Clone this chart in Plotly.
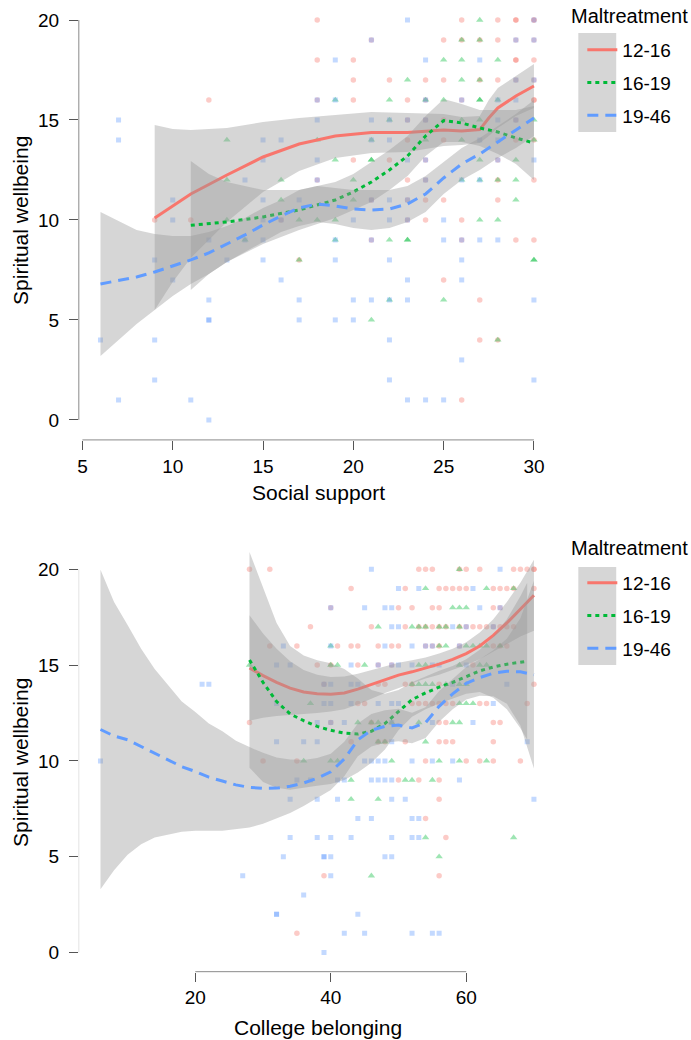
import plotly.graph_objects as go

# ---------------- data: top panel (Social support) ----------------
groups = ["12-16", "16-19", "19-46"]

top_red_x = [9, 11, 12, 17, 16, 18, 18, 18, 18, 20, 20, 20, 20, 21, 21, 21, 22, 22,
             23, 23, 23, 23, 23, 23, 24, 24, 24, 24, 24, 24, 24,
             25, 25, 25, 25, 25, 25, 26, 26, 26, 26, 26, 26, 27, 27, 27, 27,
             28, 28, 28, 28, 28, 28, 28, 29, 29, 29, 29, 29, 29, 29, 29, 29,
             30, 30, 30, 30, 30, 30, 30, 30, 30, 30]
top_red_y = [10, 10, 16, 8, 10, 20, 18, 16, 12, 18, 17, 16, 13, 19, 11, 9, 17, 13,
             16, 15, 14, 12, 11, 10, 17, 16, 15, 13, 12, 11, 10,
             19, 17, 15, 14, 11, 7, 20, 19, 16, 10, 9, 1, 19, 17, 6, 4,
             20, 19, 17, 12, 11, 4, 13, 20, 20, 19, 18, 18, 17, 15, 14, 9,
             20, 20, 19, 18, 17, 16, 16, 14, 12, 9]

top_green_x = [13, 13, 13, 14, 16, 16, 17, 17, 18, 18, 19, 19, 19, 19, 20, 20,
               21, 21, 21, 21, 22, 22, 22, 22, 23, 23, 23, 24, 24, 25, 25, 25,
               26, 26, 26, 26, 26, 26, 27, 27, 27, 27, 27, 27, 27, 27, 27,
               28, 28, 28, 28, 28, 29, 29, 29, 30, 30, 30, 30]
top_green_y = [14, 12, 10, 9, 12, 11, 10, 8, 14, 10, 16, 13, 10, 9, 12, 11,
               14, 13, 13, 5, 16, 15, 9, 6, 17, 9, 9, 16, 14, 18, 16, 6,
               19, 18, 17, 15, 14, 12, 20, 19, 17, 16, 16, 15, 13, 12, 10,
               18, 16, 12, 10, 4, 13, 12, 11, 15, 14, 8, 8]

top_blue_x = [6, 7, 7, 7, 9, 9, 9, 10, 10, 10, 11, 12, 12, 12, 12, 12, 13, 14, 14,
              15, 15, 15, 15, 15, 15, 16, 16, 16, 17, 17, 17, 18, 18, 18, 18,
              19, 19, 19, 19, 19, 20, 20, 20, 21, 21, 21, 21, 21, 21,
              22, 22, 22, 22, 22, 22, 22, 22, 23, 23, 23, 23, 23, 23, 23, 23,
              24, 24, 24, 24, 24, 24, 25, 25, 25, 26, 26, 26, 26, 26, 26,
              27, 27, 27, 27, 28, 28, 28, 28, 28, 29, 29, 29, 29,
              30, 30, 30, 30, 30, 30]
top_blue_y = [4, 15, 14, 1, 8, 4, 2, 11, 10, 7, 1, 9, 6, 5, 5, 0, 8, 12, 9,
              14, 13, 11, 10, 9, 8, 14, 10, 7, 11, 6, 5, 16, 15, 13, 12,
              18, 16, 9, 8, 5, 10, 6, 5, 19, 15, 14, 11, 9, 6,
              15, 14, 11, 10, 8, 6, 4, 2, 20, 15, 13, 11, 10, 7, 6, 1,
              18, 16, 15, 13, 12, 1, 10, 9, 1, 16, 12, 9, 8, 7, 3,
              18, 14, 12, 9, 16, 15, 14, 13, 9, 19, 17, 16, 15,
              20, 19, 17, 13, 6, 2]

# loess fits with their confidence bands
top_red_fx = [9, 10, 11, 13, 15, 17, 19, 21, 23, 25, 26, 27, 27.5, 28, 29, 30]
top_red_fit = [10.1, 10.7, 11.3, 12.25, 13.15, 13.8, 14.2, 14.37, 14.37, 14.5, 14.45, 14.52, 15.1, 15.6, 16.2, 16.7]
top_red_lo = [5.5, 6.9, 8.1, 9.9, 11.4, 12.45, 13.1, 13.35, 13.4, 13.7, 13.75, 13.85, 14.2, 14.6, 15.2, 15.6]
top_red_hi = [14.75, 14.55, 14.5, 14.6, 14.9, 15.1, 15.25, 15.4, 15.35, 15.3, 15.15, 15.2, 16.0, 16.6, 17.2, 17.8]

top_green_fx = [11, 12, 13, 15, 17, 19, 20, 21, 22, 23, 24, 25, 26, 27, 28, 29, 30]
top_green_fit = [9.73, 9.8, 9.9, 10.15, 10.5, 11.0, 11.4, 11.9, 12.5, 13.2, 14.2, 14.97, 14.85, 14.6, 14.4, 14.1, 13.85]
top_green_lo = [6.5, 7.3, 7.9, 8.8, 9.5, 10.1, 10.5, 10.9, 11.5, 12.2, 13.2, 13.9, 13.9, 13.7, 13.3, 12.8, 12.0]
top_green_hi = [12.95, 12.3, 11.9, 11.5, 11.5, 11.9, 12.3, 12.9, 13.5, 14.2, 15.2, 16.05, 15.8, 15.5, 15.5, 15.5, 15.7]

top_blue_fx = [6, 8, 9, 10, 11, 12, 13, 14, 15, 16, 17, 18, 19, 20, 21, 22, 23, 24, 25, 26, 27, 28, 29, 30]
top_blue_fit = [6.8, 7.15, 7.4, 7.7, 8.0, 8.35, 8.8, 9.25, 9.75, 10.2, 10.6, 10.8, 10.7, 10.55, 10.5, 10.55, 10.8, 11.3, 12.1, 12.8, 13.3, 13.9, 14.5, 15.1]
top_blue_lo = [3.2, 4.8, 5.5, 6.2, 6.8, 7.3, 7.9, 8.4, 8.9, 9.4, 9.7, 9.9, 9.8, 9.6, 9.5, 9.6, 9.9, 10.4, 11.3, 12.0, 12.5, 13.1, 13.6, 14.2]
top_blue_hi = [10.4, 9.5, 9.3, 9.2, 9.2, 9.4, 9.7, 10.1, 10.6, 11.0, 11.5, 11.7, 11.6, 11.5, 11.5, 11.5, 11.7, 12.2, 12.9, 13.6, 14.1, 14.7, 15.3, 16.0]

# ---------------- data: bottom panel (College belonging) ----------------
bot_red_x = [28, 31, 53, 54, 55, 59, 60, 62, 67, 68, 69, 70, 70,
             43, 51, 56, 57, 58, 59, 60, 64, 65, 66, 67, 70,
             40, 50, 52, 55, 56, 64, 65,
             37, 46, 51, 53, 54, 55, 56, 57, 59, 60, 61, 62, 63, 64, 65, 66, 67,
             31, 35, 41, 43, 44, 47, 49, 50, 54, 55, 56, 59, 64, 65, 66,
             38, 40, 44, 47, 49, 61,
             39, 47, 48, 51, 52, 56, 70,
             44, 45, 52, 53, 54, 55, 56, 57, 58, 62, 63, 69,
             28, 40, 46, 56, 57, 64, 65,
             43, 47, 48, 51, 56, 57, 58, 64,
             30, 35, 54, 60, 62, 64, 68,
             50, 53, 56, 56, 54, 57, 39, 56, 35]
bot_red_y = [20, 20, 20, 20, 20, 20, 20, 20, 20, 20, 20, 20, 20,
             19, 19, 19, 19, 19, 19, 19, 19, 19, 19, 19, 19,
             18, 18, 18, 18, 18, 18, 18,
             17, 17, 17, 17, 17, 17, 17, 17, 17, 17, 17, 17, 17, 17, 17, 17, 17,
             16, 16, 16, 16, 16, 16, 16, 16, 16, 16, 16, 16, 16, 16, 16,
             15, 15, 15, 15, 15, 15,
             14, 14, 14, 14, 14, 14, 14,
             13, 13, 13, 13, 13, 13, 13, 13, 13, 13, 13, 13,
             12, 12, 12, 12, 12, 12, 12,
             11, 11, 11, 11, 11, 11, 11, 11,
             10, 10, 10, 10, 10, 10, 10,
             9, 9, 9, 8, 7, 6, 4, 4, 1]

bot_green_x = [59, 54, 63, 67, 58, 59, 60,
               47, 52, 53, 54, 56, 57, 59,
               40, 56, 57, 60, 61, 62, 63, 65,
               28, 40, 41, 45, 53, 54, 59, 62, 63,
               52, 53, 54, 55, 57, 59, 60,
               37, 59, 60, 61,
               44, 46, 47, 49, 53, 58, 59,
               47, 48, 54,
               36, 40, 41, 49, 56, 59, 63,
               43, 51, 52, 55, 43, 47, 54, 67, 56, 46]
bot_green_y = [20, 19, 19, 19, 18, 18, 18,
               17, 17, 17, 17, 17, 17, 17,
               16, 16, 16, 16, 16, 16, 16, 16,
               15, 15, 15, 15, 15, 15, 15, 15, 15,
               14, 14, 14, 14, 14, 14, 14,
               13, 13, 13, 13,
               12, 12, 12, 12, 12, 12, 12,
               11, 11, 11,
               10, 10, 10, 10, 10, 10, 10,
               9, 9, 9, 9, 8, 8, 6, 6, 5, 4]

bot_blue_x = [6, 21, 22, 27,
              46, 65, 50, 53, 61,
              40, 45, 48, 49, 62, 65,
              49, 50, 58, 60, 64,
              33, 40, 48, 52, 54, 55, 59,
              32, 34, 43, 47, 49, 50, 52, 55, 56, 60,
              39, 40, 43, 44, 58, 66,
              32, 39, 40, 43, 47, 49, 50, 64,
              38, 40, 42, 49, 55, 61,
              32, 36, 38, 49, 69,
              45, 46, 47, 48, 52, 55, 58,
              35, 37, 41, 42, 46, 47, 48, 49, 59,
              34, 38, 41, 49, 51, 70,
              44, 46, 52, 53,
              34, 38, 40, 43, 49, 52, 53,
              33, 39, 39, 40, 48, 49,
              40, 36, 32, 32, 44, 42, 45, 52, 55, 56, 39]
bot_blue_y = [10, 14, 14, 4,
              20, 20, 19, 19, 19,
              18, 18, 18, 18, 18, 18,
              17, 17, 17, 17, 17,
              16, 16, 16, 16, 16, 16, 16,
              15, 15, 15, 15, 15, 15, 15, 15, 15, 15,
              14, 14, 14, 14, 14, 14,
              13, 13, 13, 13, 13, 13, 13, 13,
              12, 12, 12, 12, 12, 12,
              11, 11, 11, 11, 11,
              10, 10, 10, 10, 10, 10, 10,
              9, 9, 9, 9, 9, 9, 9, 9, 9,
              8, 8, 8, 8, 8, 8,
              7, 7, 7, 7,
              6, 6, 6, 6, 6, 6, 6,
              5, 5, 5, 5, 5, 5,
              4, 3, 2, 2, 2, 1, 1, 1, 1, 1, 0]

bot_red_fx = [28, 30, 32, 34, 36, 38, 40, 42, 44, 46, 48, 50, 52, 54, 56, 58, 60, 62, 64, 66, 68, 70]
bot_red_fit = [14.85, 14.45, 14.1, 13.8, 13.6, 13.5, 13.48, 13.55, 13.75, 14.0, 14.25, 14.48, 14.65, 14.85, 15.05, 15.3, 15.6, 16.0, 16.55, 17.2, 17.9, 18.65]
bot_red_lo = [12.1, 12.25, 12.35, 12.4, 12.45, 12.5, 12.58, 12.7, 12.95, 13.25, 13.55, 13.83, 14.05, 14.3, 14.5, 14.75, 15.0, 15.3, 15.7, 16.1, 16.5, 16.8]
bot_red_hi = [17.6, 16.65, 15.85, 15.2, 14.75, 14.5, 14.38, 14.4, 14.55, 14.75, 14.95, 15.13, 15.25, 15.4, 15.6, 15.85, 16.2, 16.7, 17.4, 18.3, 19.3, 20.5]

bot_green_fx = [28, 30, 32, 34, 36, 38, 40, 42, 44, 46, 48, 50, 52, 54, 56, 58, 60, 62, 64, 66, 68, 69]
bot_green_fit = [15.27, 14.1, 13.1, 12.45, 12.1, 11.8, 11.6, 11.45, 11.4, 11.55, 11.95, 12.6, 13.2, 13.55, 13.85, 14.1, 14.4, 14.7, 14.9, 15.05, 15.15, 15.2]
bot_green_lo = [9.64, 8.9, 8.6, 8.5, 8.6, 8.7, 8.8, 9.0, 9.4, 9.9, 10.6, 11.6, 12.3, 12.7, 13.0, 13.25, 13.5, 13.6, 13.3, 12.7, 11.7, 11.1]
bot_green_hi = [20.9, 19.0, 17.2, 16.0, 15.5, 15.25, 15.1, 14.8, 14.3, 13.7, 13.5, 13.7, 14.1, 14.4, 14.7, 14.95, 15.3, 15.8, 16.5, 17.4, 18.6, 19.3]

bot_blue_fx = [6, 8, 10, 12, 14, 16, 18, 20, 22, 24, 26, 28, 30, 32, 34, 36, 38, 40, 42, 44, 46, 48, 50, 52, 54, 56, 58, 60, 62, 64, 66, 68, 70]
bot_blue_fit = [11.64, 11.3, 11.1, 10.75, 10.4, 10.05, 9.7, 9.45, 9.15, 8.95, 8.75, 8.62, 8.57, 8.58, 8.68, 8.85, 9.1, 9.43, 10.1, 11.1, 11.6, 11.8, 11.87, 11.72, 12.0, 12.85, 13.5, 14.05, 14.35, 14.58, 14.68, 14.65, 14.5]
bot_blue_lo = [3.3, 4.3, 5.1, 5.65, 6.0, 6.15, 6.3, 6.35, 6.35, 6.35, 6.45, 6.52, 6.72, 6.98, 7.28, 7.65, 8.05, 8.48, 9.2, 10.25, 10.75, 10.95, 11.02, 10.92, 11.2, 12.05, 12.7, 13.2, 13.4, 13.38, 12.98, 11.85, 9.6]
bot_blue_hi = [19.98, 18.3, 17.1, 15.85, 14.8, 13.95, 13.1, 12.55, 11.95, 11.55, 11.05, 10.72, 10.42, 10.18, 10.08, 10.05, 10.15, 10.38, 11.0, 11.95, 12.45, 12.65, 12.72, 12.52, 12.8, 13.65, 14.3, 14.9, 15.3, 15.78, 16.38, 17.45, 19.4]

legend_title = "Maltreatment"

# ---------------- styling ----------------
COLORS = {"12-16": "#F8766D", "16-19": "#00BA38", "19-46": "#619CFF"}
SYMBOLS = {"12-16": "circle", "16-19": "triangle-up", "19-46": "square"}
MSIZE = {"12-16": 5.5, "16-19": 6.5, "19-46": 5}
DASH = {"12-16": "solid", "16-19": "4px,4px", "19-46": "11px,7px"}
FONT = "Liberation Sans, Arial, sans-serif"

panels = [
    dict(xa="x", ya="y", legend="legend",
         pts={"12-16": (top_red_x, top_red_y), "16-19": (top_green_x, top_green_y), "19-46": (top_blue_x, top_blue_y)},
         fits={"12-16": (top_red_fx, top_red_fit, top_red_lo, top_red_hi),
               "16-19": (top_green_fx, top_green_fit, top_green_lo, top_green_hi),
               "19-46": (top_blue_fx, top_blue_fit, top_blue_lo, top_blue_hi)}),
    dict(xa="x2", ya="y2", legend="legend2",
         pts={"12-16": (bot_red_x, bot_red_y), "16-19": (bot_green_x, bot_green_y), "19-46": (bot_blue_x, bot_blue_y)},
         fits={"12-16": (bot_red_fx, bot_red_fit, bot_red_lo, bot_red_hi),
               "16-19": (bot_green_fx, bot_green_fit, bot_green_lo, bot_green_hi),
               "19-46": (bot_blue_fx, bot_blue_fit, bot_blue_lo, bot_blue_hi)}),
]

fig = go.Figure()
for p in panels:
    for g in groups:
        xs, ys = p["pts"][g]
        fig.add_trace(go.Scatter(
            x=xs, y=ys, mode="markers", xaxis=p["xa"], yaxis=p["ya"], showlegend=False,
            marker=dict(symbol=SYMBOLS[g], size=MSIZE[g], color=COLORS[g], opacity=0.38,
                        line=dict(width=0)),
            hoverinfo="skip"))
    for g in groups:
        fx, fit, lo, hi = p["fits"][g]
        fig.add_trace(go.Scatter(
            x=list(fx) + list(fx)[::-1], y=list(hi) + list(lo)[::-1],
            mode="lines", fill="toself", fillcolor="rgba(153,153,153,0.4)",
            line=dict(width=0), xaxis=p["xa"], yaxis=p["ya"], showlegend=False,
            hoverinfo="skip"))
        fig.add_trace(go.Scatter(
            x=fx, y=fit, mode="lines", name=g, xaxis=p["xa"], yaxis=p["ya"],
            line=dict(color=COLORS[g], width=3, dash=DASH[g]),
            legend=p["legend"], legendgroup=p["legend"] + g, showlegend=True))

XDOM = [0.1115, 0.8035]
axis_common = dict(showgrid=False, zeroline=False, showline=False, ticks="outside",
                   ticklen=9, tickwidth=1, tickcolor="#555555",
                   tickfont=dict(family=FONT, size=19, color="#000000"))

legend_common = dict(x=582 / 691, xanchor="left", yanchor="top", bgcolor="rgba(0,0,0,0)",
                     font=dict(family=FONT, size=19), tracegroupgap=5)

fig.update_layout(
    width=691, height=1040,
    margin=dict(l=0, r=0, t=0, b=0),
    paper_bgcolor="white", plot_bgcolor="white",
    font=dict(family=FONT, color="#000000"),
    xaxis=dict(domain=XDOM, range=[4.8, 31.2], tickvals=[5, 10, 15, 20, 25, 30], anchor="y", **axis_common),
    yaxis=dict(domain=[0.577, 1.0], range=[-1, 21], tickvals=[0, 5, 10, 15, 20], anchor="x",
               ticklabelstandoff=6, **axis_common),
    xaxis2=dict(domain=XDOM, range=[2.8, 73.2], tickvals=[20, 40, 60], anchor="y2", **axis_common),
    yaxis2=dict(domain=[0.0657, 0.471], range=[-1, 21], tickvals=[0, 5, 10, 15, 20], anchor="x2",
                ticklabelstandoff=6, **axis_common),
    legend=dict(y=1 - 31 / 1040, **legend_common),
    legend2=dict(y=1 - 564 / 1040, **legend_common),
)

# range-frame axis lines and grey legend key backgrounds
shapes = [
    dict(type="line", xref="x domain", yref="y", x0=0, x1=0, y0=0, y1=20, line=dict(color="#8a8a8a", width=1)),
    dict(type="line", xref="x", yref="y domain", x0=5, x1=30, y0=0, y1=0, line=dict(color="#8a8a8a", width=1)),
    dict(type="line", xref="x2 domain", yref="y2", x0=0, x1=0, y0=0, y1=20, line=dict(color="#e3e3e3", width=1)),
    dict(type="line", xref="x2", yref="y2 domain", x0=20, x1=60, y0=0, y1=0, line=dict(color="#8a8a8a", width=1)),
    dict(type="rect", xref="paper", yref="paper", x0=578 / 691, x1=616 / 691,
         y0=1 - 132 / 1040, y1=1 - 33 / 1040, fillcolor="#d6d6d6", line=dict(width=0), layer="below"),
    dict(type="rect", xref="paper", yref="paper", x0=578 / 691, x1=616 / 691,
         y0=1 - 665 / 1040, y1=1 - 567 / 1040, fillcolor="#d6d6d6", line=dict(width=0), layer="below"),
]
fig.update_layout(shapes=shapes)

annots = [
    dict(text="Spiritual wellbeing", x=18 / 691, y=1 - 220 / 1040, textangle=-90),
    dict(text="Spiritual wellbeing", x=18 / 691, y=1 - 762 / 1040, textangle=-90),
    dict(text="Social support", x=317 / 691, y=1 - 492 / 1040),
    dict(text="College belonging", x=317 / 691, y=1 - 1027 / 1040),
]
for a in annots:
    fig.add_annotation(xref="paper", yref="paper", showarrow=False, xanchor="center", yanchor="middle",
                       font=dict(family=FONT, size=21, color="#000000"), **a)
# legend titles
for ty in (16, 548):
    fig.add_annotation(xref="paper", yref="paper", showarrow=False, xanchor="left", yanchor="middle",
                       x=569 / 691, y=1 - ty / 1040, text=legend_title,
                       font=dict(family=FONT, size=20, color="#000000"))

fig.write_html("out.html", config={"displayModeBar": False},
               post_script="document.body.style.margin='0px';document.body.style.overflow='hidden';")
